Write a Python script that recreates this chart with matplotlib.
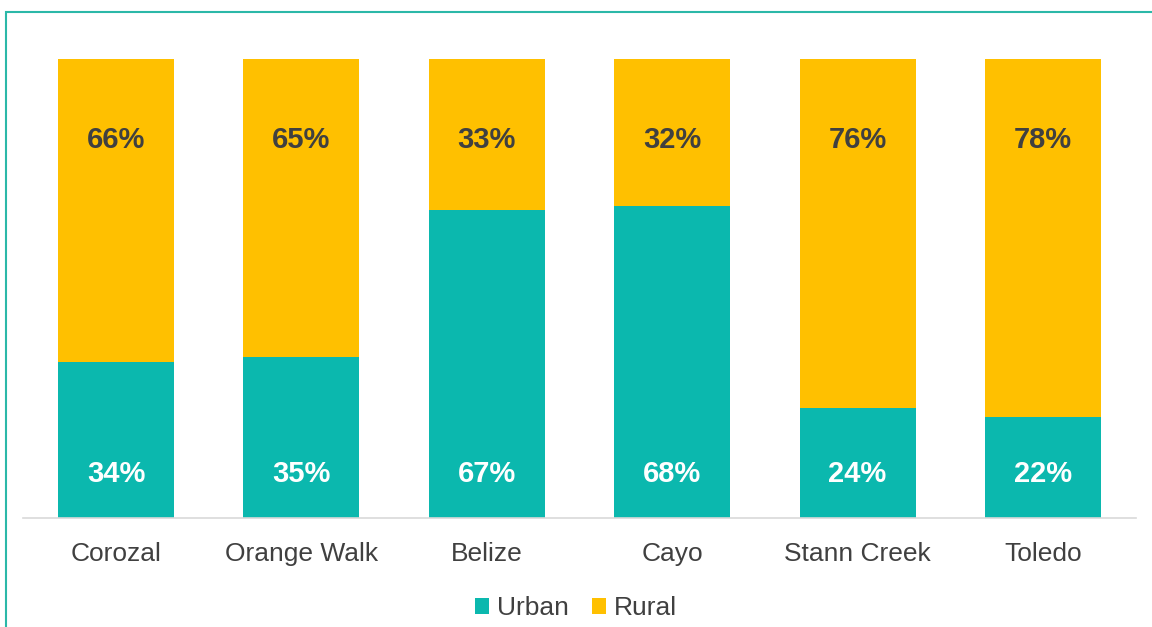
import matplotlib.pyplot as plt
from matplotlib.patches import Rectangle

plt.rcParams['font.family'] = ['Liberation Sans', 'DejaVu Sans']

districts = ['Corozal', 'Orange Walk', 'Belize', 'Cayo', 'Stann Creek', 'Toledo']
urban = [34, 35, 67, 68, 24, 22]
rural = [66, 65, 33, 32, 76, 78]

teal = '#0BB8AE'
yellow = '#FFC000'
dark = '#404040'

fig = plt.figure(figsize=(11.52, 6.27), dpi=100)
ax = fig.add_axes([0.0202, 0.1738, 0.9656, 0.7321])

x = range(len(districts))
u = [v / 100 for v in urban]
r = [v / 100 for v in rural]
ax.bar(x, u, width=0.626, color=teal, label='Urban')
ax.bar(x, r, width=0.626, bottom=u, color=yellow, label='Rural')

for i in x:
    ax.text(i, 0.096, f'{urban[i]}%', ha='center', va='center',
            color='white', fontsize=21, fontweight='bold')
    ax.text(i, 0.824, f'{rural[i]}%', ha='center', va='center',
            color=dark, fontsize=21, fontweight='bold')

ax.set_xlim(-0.5, len(districts) - 0.5)
ax.set_ylim(0, 1)
ax.set_xticks(list(x))
ax.set_xticklabels(districts, fontsize=19, color=dark)
ax.tick_params(axis='x', length=0, pad=17)
ax.set_yticks([])
for s in ['top', 'right', 'left']:
    ax.spines[s].set_visible(False)
ax.spines['bottom'].set_color('#D9D9D9')
ax.spines['bottom'].set_linewidth(1.2)

leg = fig.legend(loc='center', bbox_to_anchor=(0.5, 0.03), ncol=2, frameon=False,
                 fontsize=19, handlelength=0.53, handleheight=0.53,
                 handletextpad=0.3, columnspacing=0.87)
for t in leg.get_texts():
    t.set_color(dark)

# teal frame around the chart
fig.patches.append(Rectangle((5.5 / 1152, -0.05), 1.1, 1 - 12 / 627 + 0.05,
                             transform=fig.transFigure, fill=False,
                             edgecolor='#2BB8A8', linewidth=1.5))

fig.savefig('out.png', dpi=100)
